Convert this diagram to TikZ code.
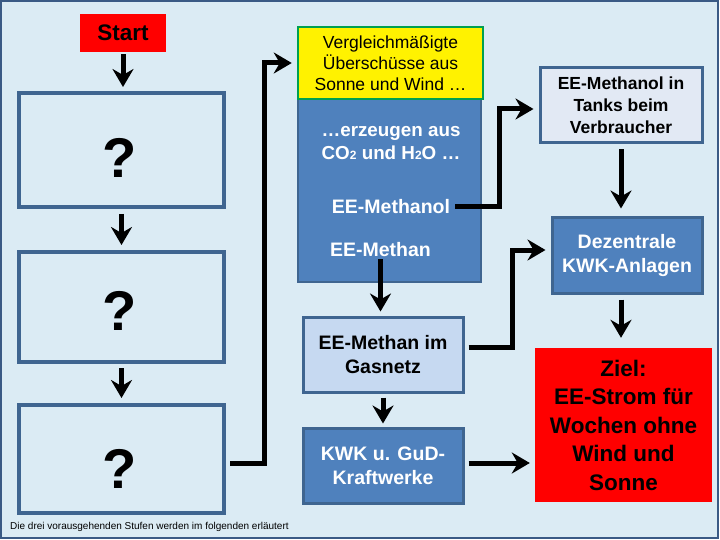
\documentclass[tikz,border=0pt]{standalone}
\usepackage{fontspec}
\setmainfont{Liberation Sans}
\usetikzlibrary{arrows.meta,calc}
\definecolor{bg}{HTML}{DBEBF4}
\definecolor{frame}{HTML}{3A5A85}
\definecolor{boxblue}{HTML}{3F6590}
\definecolor{midblue}{HTML}{4F81BD}
\definecolor{lightblue}{HTML}{C6D9F1}
\definecolor{paleblue}{HTML}{E2E9F4}
\definecolor{ygreen}{HTML}{00A050}
\newcommand{\fs}[2]{\fontsize{#1}{#2}\selectfont}
\begin{document}
\begin{tikzpicture}[x=1pt,y=-1pt,
  qbox/.style={draw=boxblue,line width=4pt,minimum width=205pt,inner sep=0pt},
  qmark/.style={inner sep=0pt,font=\bfseries\fs{56}{60}},
  fbox/.style={draw=boxblue,line width=3pt,inner sep=0pt,align=center,font=\bfseries\fs{19.5}{24}},
  tlabel/.style={inner sep=2pt,align=center,text=white,font=\bfseries\fs{18.8}{23}},
  arr/.style={line width=5pt,-{Stealth[width=21pt,length=18pt,inset=6pt]}},
  conn/.style={line width=5pt}]
\useasboundingbox (0,0) rectangle (720,540);
\draw[fill=bg,draw=frame,line width=2pt] (1,1) rectangle (718,538);
% Start
\node[fill=red,minimum width=86pt,minimum height=38pt,inner sep=0pt,font=\bfseries\fs{22.5}{24}] (start) at (123,33) {Start};
% question boxes
\node[qbox,minimum height=114pt] (q1) at (121.5,150) {};
\node[qbox,minimum height=110pt] (q2) at (121.5,307) {};
\node[qbox,minimum height=108pt] (q3) at (121.5,459) {};
\node[qmark] (m1) at (120,158) {?};
\node[qmark] (m2) at (120,311) {?};
\node[qmark] (m3) at (120,469) {?};
\node[anchor=west,inner sep=0pt,font=\fs{10}{11}] (cap) at (10,527) {Die drei vorausgehenden Stufen werden im folgenden erläutert};
% big blue box and yellow
\node[fill=midblue,draw=boxblue,line width=2pt,minimum width=183pt,minimum height=183pt,inner sep=0pt] (big) at (389.5,190.5) {};
\node[fill=yellow,draw=ygreen,line width=2.5pt,minimum width=185pt,minimum height=72pt,inner sep=0pt,align=center,font=\fs{17.5}{21}] (yel) at (390.5,63) {Vergleichmäßigte\\Überschüsse aus\\Sonne und Wind …};
\node[tlabel] (erz) at (391,143.5) {…erzeugen aus\\CO{\fs{12}{12}2} und H{\fs{12}{12}2}O …};
\node[tlabel,font=\bfseries\fs{19.5}{23}] (mol) at (391,207) {EE-Methanol};
\node[tlabel,font=\bfseries\fs{19.5}{23}] (mth) at (380.5,250) {EE-Methan};
% right column
\node[fbox,fill=paleblue,minimum width=162pt,minimum height=75pt,font=\bfseries\fs{17.5}{22}] (tanks) at (621,105.5) {EE-Methanol in\\Tanks beim\\Verbraucher};
\node[fbox,fill=midblue,text=white,minimum width=150pt,minimum height=75pt] (dez) at (627,255.5) {Dezentrale\\KWK-Anlagen};
\node[fill=red,minimum width=177pt,minimum height=154pt,inner sep=0pt,align=center,font=\bfseries\fs{22.5}{28.5}] (ziel) at (623.5,425) {Ziel:\\EE-Strom für\\Wochen ohne\\Wind und\\Sonne};
% middle lower
\node[fbox,fill=lightblue,minimum width=160pt,minimum height=75pt] (gas) at (383,354.5) {EE-Methan im\\Gasnetz};
\node[fbox,fill=midblue,text=white,minimum width=160pt,minimum height=75pt] (kwk) at (383,465.5) {KWK u. GuD-\\Kraftwerke};
% arrows
\draw[arr,shorten <=2pt,shorten >=4pt] (start.south) -- (start.south |- q1.north);
\draw[arr,shorten <=5pt,shorten >=5pt] (q1.south) -- (q2.north);
\draw[arr,shorten <=4pt,shorten >=5pt] (q2.south) -- (q3.north);
\draw[arr,shorten <=4pt,shorten >=5pt] ([yshift=-4pt]q3.east) -- ++(38,0) |- (yel.west);
\draw[arr,shorten <=3pt,shorten >=5pt] (mol.east) -- ++(47,0) |- ([yshift=-3.5pt]tanks.west);
\draw[arr,shorten >=4pt] (mth.south) -- (mth.south |- gas.north);
\draw[arr,shorten <=4pt,shorten >=3pt] (gas.south) -- (kwk.north);
\draw[arr,shorten <=4pt,shorten >=5pt] ([yshift=7.5pt]gas.east) -- ++(48,0) |- ([yshift=5.5pt]dez.west);
\draw[arr,shorten <=4pt,shorten >=5pt] ([yshift=2.5pt]kwk.east) -- ([yshift=2.5pt]kwk.east -| ziel.west);
\draw[arr,shorten <=5pt,shorten >=8pt] (tanks.south) -- (tanks.south |- dez.north);
\draw[arr,shorten <=5pt,shorten >=10pt] (tanks.south |- dez.south) -- (tanks.south |- ziel.north);
\end{tikzpicture}
\end{document}
